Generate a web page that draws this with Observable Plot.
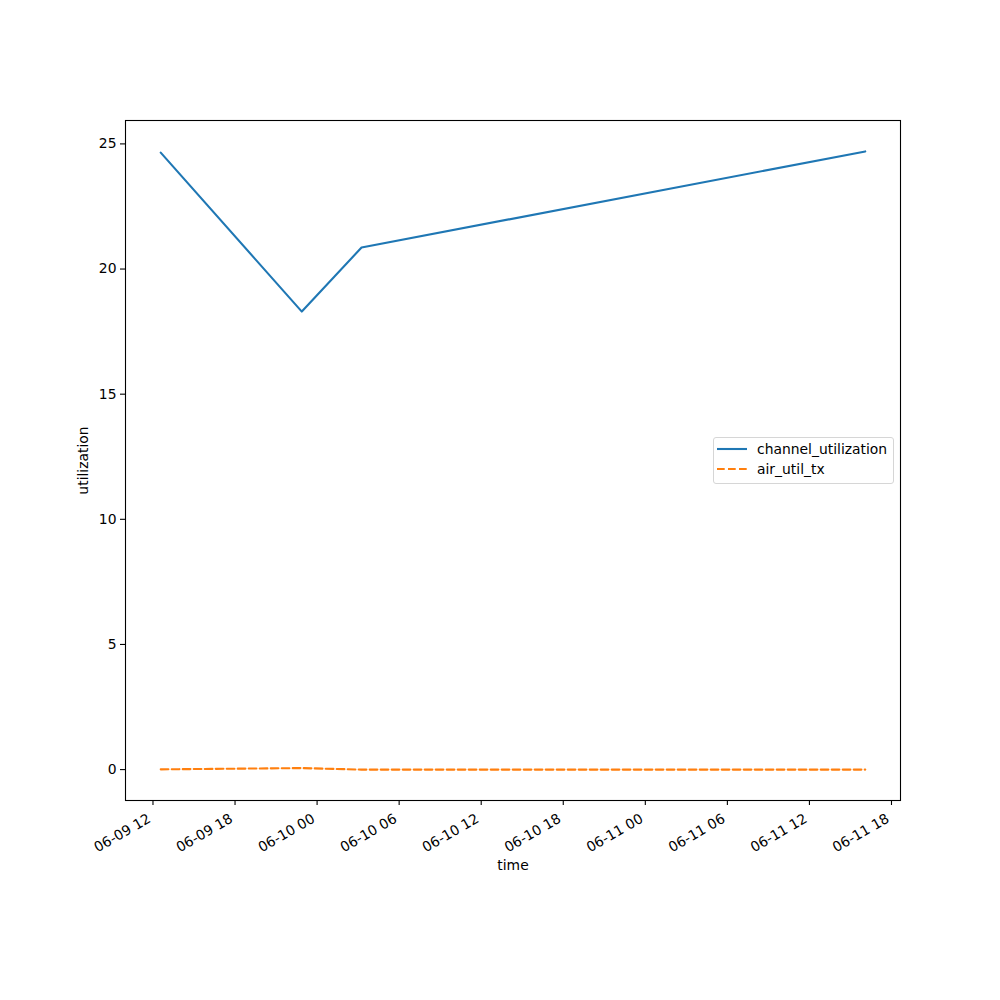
<!DOCTYPE html>
<html>
<head>
<meta charset="utf-8">
<script src="https://cdn.jsdelivr.net/npm/d3@7"></script>
<script src="https://cdn.jsdelivr.net/npm/@observablehq/plot@0.6"></script>
<style>
  body { margin: 0; background: #fff; }
  #wrap { position: relative; width: 1000px; height: 1000px; font-family: "DejaVu Sans", sans-serif; }
  #legend { position: absolute; left: 713px; top: 437px; width: 179px; height: 45px; border: 1px solid #d6d6d6; border-radius: 3px; background: rgba(255,255,255,0.8); font-size: 13.9px; color: #000; }
  #legend .row { position: absolute; left: 3px; height: 20px; display: flex; align-items: center; }
  #legend svg { margin-right: 10px; }
</style>
</head>
<body>
<div id="wrap">
  <div id="chart"></div>
  <div id="legend"></div>
</div>
<script>
const times = ["2024-06-09T12:34Z", "2024-06-09T22:53Z", "2024-06-10T03:15Z", "2024-06-11T16:05Z"];
const channelUtilization = [24.65, 18.30, 20.86, 24.70];
const airUtilTx = [0.01, 0.06, 0.0, 0.0];
const seriesNames = ["channel_utilization", "air_util_tx"];
const seriesColors = ["#1f77b4", "#ff7f0e"];
const yTicks = [0, 5, 10, 15, 20, 25];
const xLabel = "time";
const yLabel = "utilization";

const dates = times.map(t => new Date(t));
const rows = [];
dates.forEach((d, i) => {
  rows.push({time: d, value: channelUtilization[i], series: seriesNames[0]});
  rows.push({time: d, value: airUtilTx[i], series: seriesNames[1]});
});

function pad(ext, f) { const r = ext[1] - ext[0]; return [ext[0] - r * f, ext[1] + r * f]; }
const xExt = d3.extent(dates);
const xDom = pad([+xExt[0], +xExt[1]], 0.05).map(v => new Date(v));
const yDom = pad(d3.extent(rows, d => d.value), 0.05);
const xTicks = d3.utcHour.every(6).range(d3.utcHour.offset(xDom[0], -6), xDom[1]).filter(t => t >= xDom[0] && t <= xDom[1]);
const fmt = d3.utcFormat("%m-%d %H");

const chart = Plot.plot({
  width: 1000,
  height: 1000,
  marginLeft: 125,
  marginRight: 100,
  marginTop: 120,
  marginBottom: 200,
  style: {fontFamily: "DejaVu Sans, sans-serif", fontSize: "13.9px", color: "#000", background: "#fff"},
  x: {type: "utc", domain: xDom},
  y: {domain: yDom},
  marks: [
    Plot.axisX({ticks: xTicks, tickSize: 5, tickFormat: () => "", label: null, stroke: "#000", strokeWidth: 1.1}),
    Plot.text(xTicks, {x: d => d, text: d => fmt(d), frameAnchor: "bottom", rotate: -30, textAnchor: "end", lineAnchor: "middle", dx: -3.5, dy: 17, fill: "#000", fontSize: 13.9}),
    Plot.text([xLabel], {text: d => d, frameAnchor: "bottom", lineAnchor: "middle", dy: 65, fill: "#000", fontSize: 13.9}),
    Plot.axisY({ticks: yTicks, tickSize: 5, tickPadding: 4, label: yLabel, labelAnchor: "center", labelOffset: 47, labelArrow: "none", stroke: "#000", strokeWidth: 1.1}),
    Plot.line(rows.filter(d => d.series === seriesNames[0]), {x: "time", y: "value", stroke: seriesColors[0], strokeWidth: 2.1}),
    Plot.line(rows.filter(d => d.series === seriesNames[1]), {x: "time", y: "value", stroke: seriesColors[1], strokeWidth: 2.1, strokeDasharray: "7.7,3.3"}),
    Plot.frame({stroke: "#000", strokeWidth: 1.1})
  ]
});
document.getElementById("chart").appendChild(chart);

const legend = document.getElementById("legend");
seriesNames.forEach((name, i) => {
  const row = document.createElement("div");
  row.className = "row";
  row.style.top = (1 + i * 20) + "px";
  const dash = i === 1 ? ' stroke-dasharray="7.7,3.3"' : '';
  row.innerHTML = `<svg width="30" height="6"><line x1="0" x2="30" y1="3" y2="3" stroke="${seriesColors[i]}" stroke-width="2.1"${dash}/></svg><span>${name}</span>`;
  legend.appendChild(row);
});
</script>
</body>
</html>
